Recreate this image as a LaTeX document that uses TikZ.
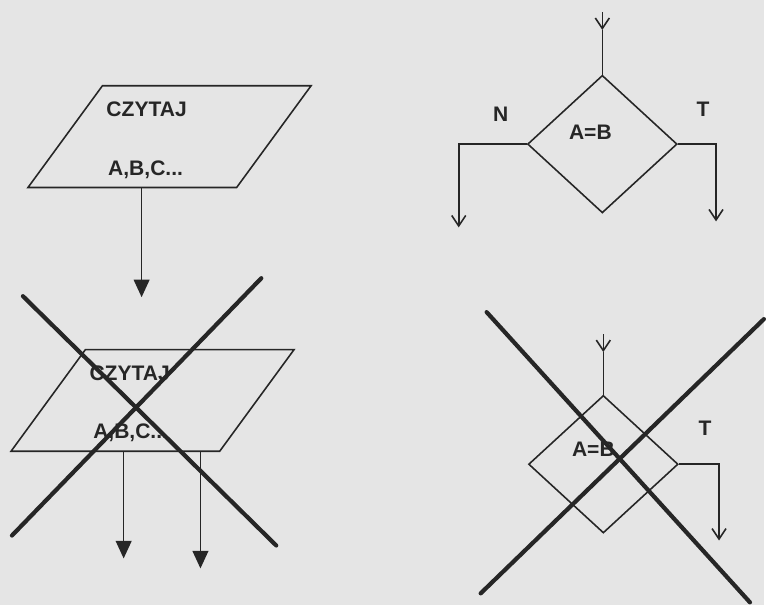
\documentclass[tikz,border=0pt]{standalone}
\usepackage{fontspec}
\setmainfont{Liberation Sans}
\usetikzlibrary{shapes.geometric, arrows.meta}
\definecolor{paper}{RGB}{229, 229, 229}
\definecolor{ink}{RGB}{38, 38, 38}

\begin{document}
\begin{tikzpicture}[
  x=0.02cm, y=-0.02cm,
  line/.style={draw=ink, line width=0.9pt},
  iobox/.style={line, trapezium, trapezium left angle=61, trapezium right angle=119, trapezium stretches=true, minimum width=5.68cm, minimum height=2.04cm, inner sep=2pt},
  ifbox/.style={line, diamond, minimum width=3cm, minimum height=2.76cm, inner sep=0pt},
  txt/.style={text=ink, anchor=base, inner sep=0pt, font=\fontsize{12}{14}\selectfont\bfseries},
  fillarrow/.style={line, -{Triangle[width=9pt, length=10pt]}},
  openarrow/.style={line, -{Straight Barb[width=8pt, length=6pt]}},
  cross/.style={draw=ink, line width=2.4pt, line cap=round}
]
  \fill[paper] (0,0) rectangle (766,607);

  % read block
  \node[iobox] (czytaj) at (170,137) {};
  \node[txt] (czytaj1) at (147,117) {CZYTAJ};
  \node[txt] (abc1) at (146,176) {A,B,C...};
  \coordinate (o1) at (142,298);
  \draw[fillarrow] (o1 |- czytaj.south) -- (o1);

  % read block, wrong
  \node[iobox] (czytajx) at (153,401.5) {};
  \node[txt] (czytaj2) at (130,382) {CZYTAJ};
  \node[txt] (abc2) at (131,440) {A,B,C...};
  \coordinate (o2) at (124,560);
  \coordinate (o3) at (201,570);
  \draw[fillarrow] (o2 |- czytajx.south) -- (o2);
  \draw[fillarrow] (o3 |- czytajx.south) -- (o3);
  \coordinate (xa1) at (23,297);
  \coordinate (xa2) at (277,547);
  \coordinate (xb1) at (262,279);
  \coordinate (xb2) at (12,537);
  \draw[cross] (xa1) -- (xa2);
  \draw[cross] (xb1) -- (xb2);

  % decision
  \node[ifbox] (ifab) at (604,144.5) {};
  \node[txt] (eq1) at (592,140) {A=B};
  \node[txt] (n1) at (502,122) {N};
  \node[txt] (t1) at (705,117) {T};
  \coordinate (in1) at (604,12);
  \coordinate (tip1) at (604,30);
  \coordinate (no1) at (460,228);
  \coordinate (yes1) at (718,222);
  \draw[openarrow] (in1) -- (tip1);
  \draw[line] (tip1) -- (ifab.north);
  \draw[openarrow] (ifab.west) -| (no1);
  \draw[openarrow] (ifab.east) -| (yes1);

  % decision, wrong
  \node[ifbox] (ifabx) at (605,465.5) {};
  \node[txt] (eq2) at (595,458) {A=B};
  \node[txt] (t2) at (707,437) {T};
  \coordinate (in2) at (605,335);
  \coordinate (tip2) at (605,353);
  \coordinate (yes2) at (721,542);
  \draw[openarrow] (in2) -- (tip2);
  \draw[line] (tip2) -- (ifabx.north);
  \draw[openarrow] (ifabx.east) -| (yes2);
  \coordinate (ya1) at (488,313);
  \coordinate (ya2) at (752,604);
  \coordinate (yb1) at (766,320);
  \coordinate (yb2) at (482,595);
  \draw[cross] (ya1) -- (ya2);
  \draw[cross] (yb1) -- (yb2);
\end{tikzpicture}
\end{document}
